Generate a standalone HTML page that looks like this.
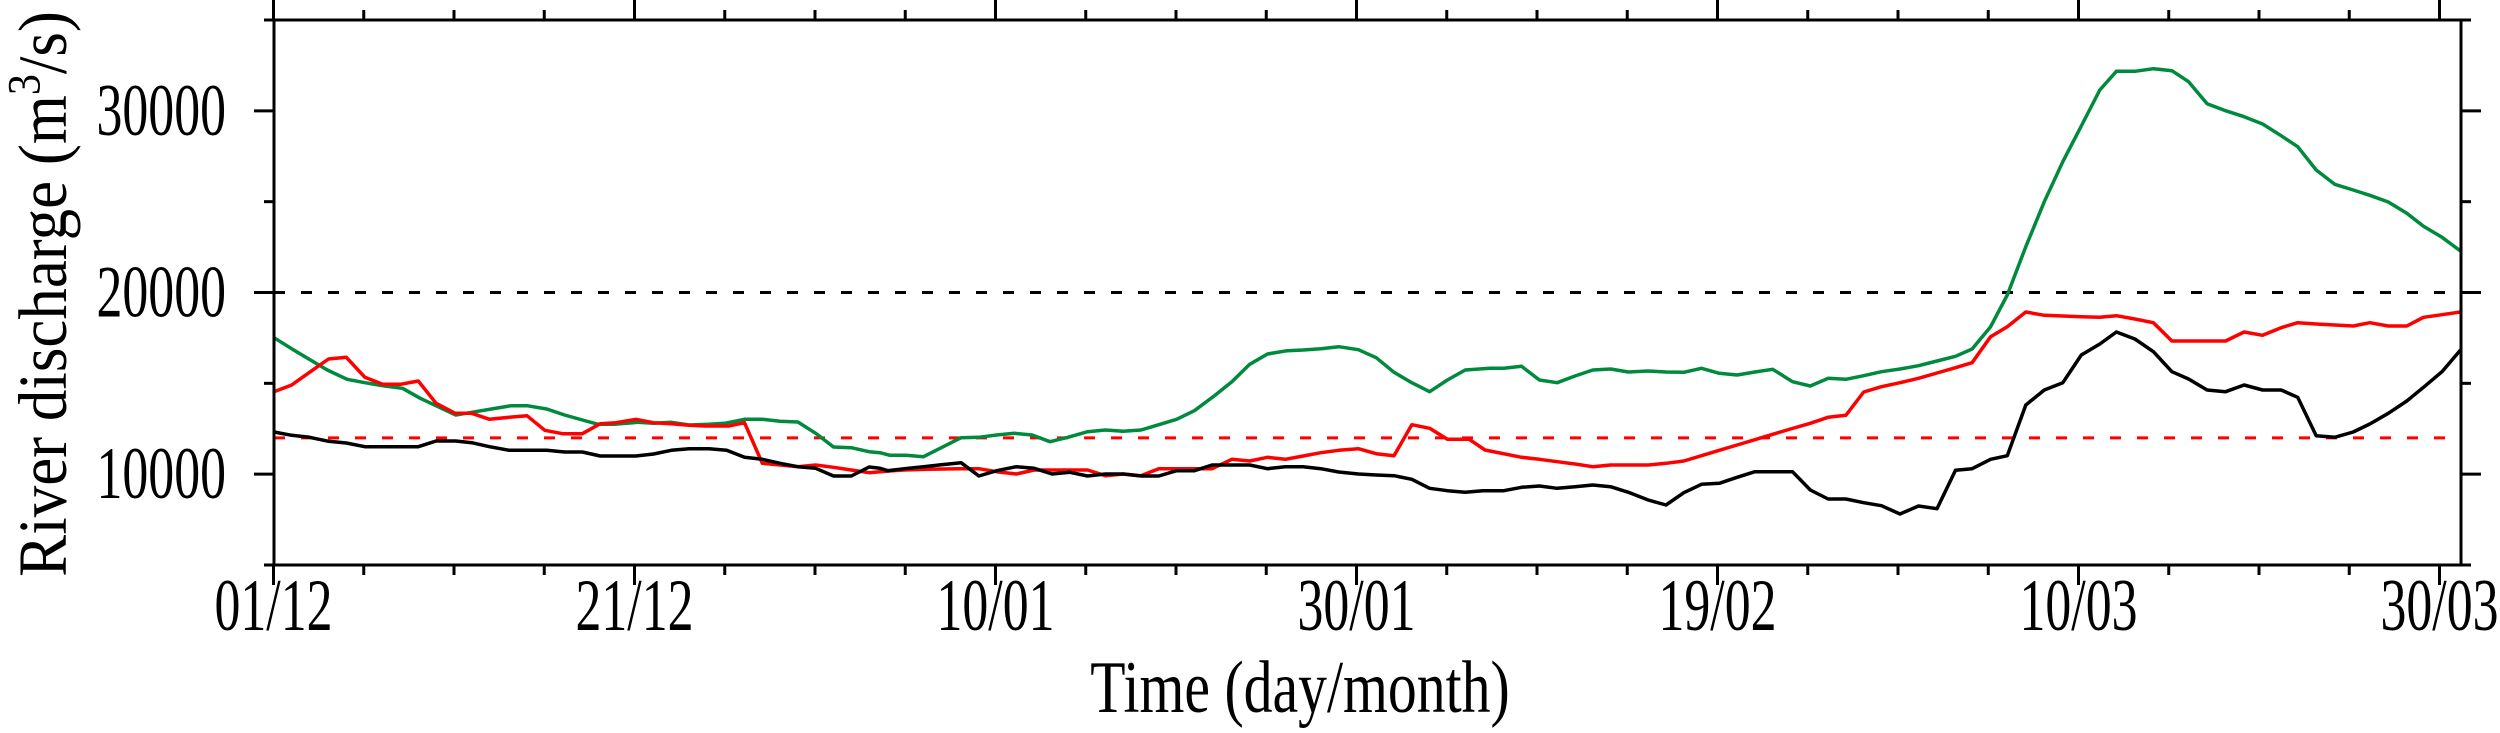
<!DOCTYPE html>
<html><head><meta charset="utf-8"><style>
html,body{margin:0;padding:0;background:#fff;}
svg{display:block;}
text{font-family:"Liberation Serif",serif;fill:#000;}
</style></head><body>
<svg id="s" width="2500" height="733" xmlns="http://www.w3.org/2000/svg">
<g id="g"></g>
<text transform="translate(1300,712) scale(0.78,1)" font-size="74" text-anchor="middle">Time (day/month)</text>
<text transform="translate(66,294) rotate(-90) scale(1,1.1)" font-size="63" text-anchor="middle">River discharge (m<tspan dy="-24" font-size="42">3</tspan><tspan dy="24">/s)</tspan></text>
</svg>
<script>
var L=274,R=2461,T=20,B=565;
function X(d){return 273.5+18.05*d;}
function Y(v){return B-(v-5000)*545/30000;}
var g=document.getElementById('g'),h='';
h+='<line x1="'+L+'" x2="'+R+'" y1="'+Y(20000)+'" y2="'+Y(20000)+'" stroke="#000" stroke-width="3" stroke-dasharray="11,16"/>';
h+='<line x1="'+L+'" x2="'+R+'" y1="'+Y(12000)+'" y2="'+Y(12000)+'" stroke="#f00" stroke-width="3" stroke-dasharray="11,16"/>';
var Z=[
[270,250,2.529,3,880,
[[10,263],[60,300],[145,360],[195,388],[240,398],[290,408],[335,415],[380,445],[470,495],[510,487],[560,477],[610,467],[650,467],[700,477],[745,495],[790,510],[830,523],[870,523],[930,517],[970,520],[1015,517],[1060,525],[1110,523],[1150,520],[1200,508],[1245,508],[1290,514],[1335,516],[1380,550],[1425,591],[1470,593],[1515,605],[1568,618]],
[[10,425],[55,405],[100,367],[148,327],[193,322],[240,382],[285,403],[330,403],[375,393],[420,460],[468,490],[510,490],[555,508],[605,502],[650,497],[695,541],[740,551],[790,551],[835,521],[875,518],[925,508],[970,518],[1015,521],[1060,526],[1100,528],[1160,528],[1200,518],[1245,640],[1290,645],[1335,650],[1380,645],[1425,652],[1470,660],[1515,668],[1568,666]],
[[10,546],[55,556],[100,562],[148,574],[193,579],[240,590],[285,590],[330,590],[375,590],[420,573],[470,573],[510,578],[555,590],[605,601],[650,601],[700,601],[745,606],[790,606],[835,618],[875,618],[925,618],[970,612],[1015,601],[1060,596],[1110,596],[1155,601],[1200,622],[1245,628],[1290,640],[1335,650],[1380,655],[1425,678],[1470,678],[1515,651],[1568,662]]],
[880,250,2.529,3,1490,
[[0,608],[25,616],[65,616],[110,620],[160,590],[205,563],[250,562],[295,555],[340,550],[385,555],[430,575],[475,562],[525,545],[570,540],[615,544],[660,540],[705,524],[750,508],[795,482],[845,438],[890,395],[935,343],[980,312],[1030,302],[1070,300],[1115,296],[1160,290],[1210,299],[1255,323],[1300,367],[1345,398],[1390,425],[1435,390],[1480,360],[1568,354]],
[[0,665],[60,660],[120,658],[200,656],[250,656],[295,665],[345,672],[390,660],[435,660],[480,660],[525,660],[570,677],[615,672],[660,677],[705,656],[750,656],[795,656],[840,656],[890,628],[935,633],[980,622],[1025,628],[1070,618],[1115,608],[1160,601],[1210,596],[1255,611],[1300,617],[1345,524],[1390,535],[1435,568],[1490,568],[1530,600],[1568,610]],
[[0,655],[20,662],[70,655],[110,650],[155,644],[205,638],[250,678],[295,662],[345,650],[390,655],[435,672],[480,667],[525,678],[570,672],[615,672],[660,678],[705,678],[750,662],[795,662],[840,645],[890,645],[935,645],[980,656],[1025,650],[1070,650],[1115,656],[1160,666],[1210,672],[1255,675],[1300,677],[1345,688],[1390,715],[1435,722],[1480,727],[1525,722],[1568,722]]],
[1490,250,2.529,3,1900,
[[0,355],[35,355],[80,349],[125,390],[170,398],[215,378],[260,360],[305,357],[350,366],[400,363],[445,366],[490,367],[535,355],[580,370],[625,375],[670,366],[715,358],[765,395],[810,408],[855,385],[900,388],[945,377],[990,365],[1040,357],[1080,349],[1130,334],[1175,320],[1220,297],[1265,232],[1310,130],[1355,0]],
[[0,603],[80,622],[125,628],[170,635],[215,642],[260,650],[305,645],[350,645],[400,645],[445,640],[490,633],[535,617],[580,601],[625,585],[670,569],[715,553],[760,537],[810,520],[855,502],[900,496],[945,426],[990,410],[1040,399],[1085,388],[1130,372],[1175,355],[1220,339],[1265,262],[1310,231],[1355,186],[1400,196],[1450,198],[1535,201],[1568,197]],
[[0,722],[35,722],[80,712],[125,708],[170,715],[215,710],[260,705],[305,710],[350,727],[400,750],[445,765],[490,728],[535,703],[580,700],[625,682],[670,665],[715,665],[765,665],[810,720],[855,747],[900,747],[945,758],[990,767],[1040,792],[1085,767],[1130,775],[1175,661],[1220,656],[1265,628],[1310,617],[1355,463],[1405,420],[1450,400],[1495,317],[1568,258]]],
[1900,20,2.703,3,9999,
[[0,1047],[50,1037],[100,1023],[150,1009],[195,987],[245,920],[290,825],[340,680],[390,545],[440,425],[490,318],[540,210],[585,154],[635,154],[685,146],[735,152],[780,185],[830,251],[880,272],[930,290],[980,312],[1030,347],[1075,380],[1125,450],[1175,493],[1225,510],[1270,526],[1320,546],[1370,580],[1415,619],[1465,652],[1515,693]],
[[0,1088],[50,1075],[100,1059],[150,1043],[195,1028],[245,950],[290,920],[340,876],[390,886],[440,888],[490,890],[540,892],[585,887],[635,897],[685,908],[735,963],[780,963],[830,963],[880,963],[930,936],[980,946],[1030,923],[1075,908],[1125,912],[1175,915],[1225,918],[1270,908],[1320,918],[1370,918],[1415,892],[1465,884],[1515,876]],
[[0,1482],[50,1458],[100,1466],[150,1351],[195,1346],[245,1318],[290,1307],[340,1155],[390,1110],[440,1088],[490,1005],[540,972],[585,936],[635,957],[685,995],[735,1055],[780,1077],[830,1110],[880,1115],[930,1095],[980,1110],[1030,1110],[1075,1132],[1125,1247],[1175,1252],[1225,1236],[1270,1212],[1320,1180],[1370,1143],[1415,1102],[1465,1055],[1515,990]]]
];
var cols=['#008a3e','#ff0000','#000'];var pts=[[],[],[]];
Z.forEach(function(z){for(var k=0;k<3;k++){z[5+k].forEach(function(p){var x=z[0]+p[0]/z[2],y=z[1]+p[1]/z[3];
 var last=pts[k].length?pts[k][pts[k].length-1][0]:0;
 if(x<z[4]&&x>last&&x<=R+1)pts[k].push([x,y]);});}});
[0,1,2].forEach(function(k){h+='<polyline fill="none" stroke="'+cols[k]+'" stroke-width="3.5" stroke-linejoin="round" points="'+pts[k].map(function(p){return p[0].toFixed(1)+','+p[1].toFixed(1)}).join(' ')+'"/>';});
h+='<path d="M'+(L-10)+' '+T+'H'+R+'V'+B+'H'+(L-10)+'M'+L+' '+T+'V'+B+'" fill="none" stroke="#000" stroke-width="3"/>';
for(var d=0;d<=121;d+=5){var x=X(d),len=(d%20==0)?20:10;
 h+='<line x1="'+x+'" x2="'+x+'" y1="'+B+'" y2="'+(B+len)+'" stroke="#000" stroke-width="3"/>';
 h+='<line x1="'+x+'" x2="'+x+'" y1="'+T+'" y2="'+(T-len)+'" stroke="#000" stroke-width="3"/>';}
var lab=['01/12','21/12','10/01','30/01','19/02','10/03','30/03'];
lab.forEach(function(t,i){h+='<text transform="translate('+X(i*20)+',630) scale(0.7,1)" font-size="74" text-anchor="middle">'+t+'</text>';});
for(var v=5000;v<=35000;v+=5000){var y=Y(v),len=(v%10000==0)?20:10;
 h+='<line x1="'+L+'" x2="'+(L-len)+'" y1="'+y+'" y2="'+y+'" stroke="#000" stroke-width="3"/>';
 h+='<line x1="'+R+'" x2="'+(R+len)+'" y1="'+y+'" y2="'+y+'" stroke="#000" stroke-width="3"/>';
 if(v%10000==0&&v<35000&&v>5000)h+='<text transform="translate(226,'+(y+24)+') scale(0.7,1)" font-size="74" text-anchor="end">'+v+'</text>';}
g.innerHTML=h;
</script>
</body></html>
